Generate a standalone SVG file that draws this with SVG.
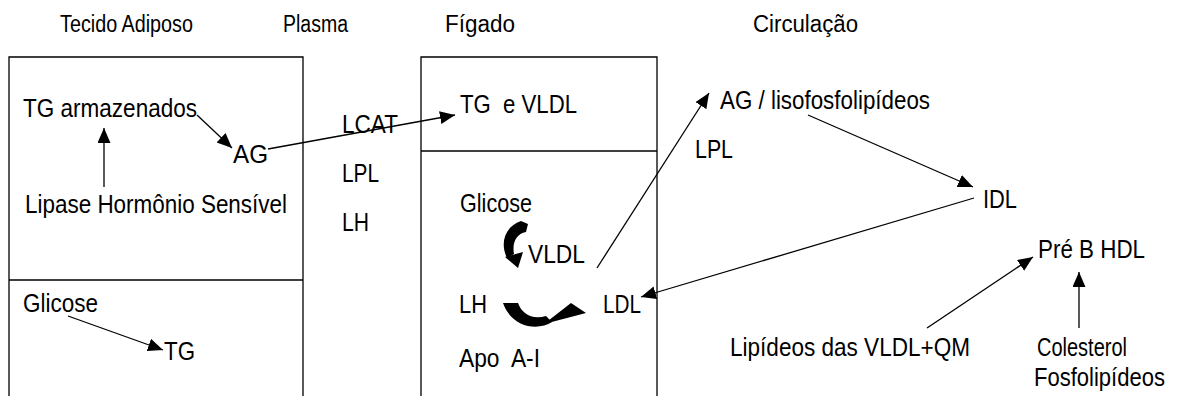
<svg xmlns="http://www.w3.org/2000/svg" width="1178" height="396" viewBox="0 0 1178 396">
<style>
text{font-family:"Liberation Sans",Arial,sans-serif;fill:#000;white-space:pre;}
.t{font-size:23px;}
.b{font-size:26px;}
.box{fill:none;stroke:#000;stroke-width:1.3;}
.c{fill:none;stroke:#000;stroke-width:1.3;marker-end:url(#ah);}
.blk{fill:#000;stroke:none;}
</style>
<defs>
<marker id="ah" markerUnits="userSpaceOnUse" markerWidth="16" markerHeight="14" refX="15" refY="6.5" orient="auto">
<path d="M0,0 L15,6.5 L0,13 Z" fill="#000"/>
</marker>
</defs>
<rect width="1178" height="396" fill="#fff"/>
<g id="titles">
<text class="t" x="60" y="32" textLength="133" lengthAdjust="spacingAndGlyphs">Tecido Adiposo</text>
<text class="t" x="283" y="32" textLength="65" lengthAdjust="spacingAndGlyphs">Plasma</text>
<text class="t" x="445" y="32" textLength="70" lengthAdjust="spacingAndGlyphs">Fígado</text>
<text class="t" x="753" y="32" textLength="105" lengthAdjust="spacingAndGlyphs">Circulação</text>
</g>
<g id="tecido-adiposo">
<path class="box" d="M9,396 V57 H303 V396 M9,280 H303"/>
<text class="b" x="23" y="117" textLength="174" lengthAdjust="spacingAndGlyphs">TG armazenados</text>
<text class="b" x="233" y="163" textLength="35" lengthAdjust="spacingAndGlyphs">AG</text>
<text class="b" x="25" y="213" textLength="262" lengthAdjust="spacingAndGlyphs">Lipase Hormônio Sensível</text>
<text class="b" x="23" y="312" textLength="75" lengthAdjust="spacingAndGlyphs">Glicose</text>
<text class="b" x="164" y="360" textLength="31" lengthAdjust="spacingAndGlyphs">TG</text>
</g>
<g id="plasma">
<text class="b" x="342" y="133" textLength="56" lengthAdjust="spacingAndGlyphs">LCAT</text>
<text class="b" x="342" y="182" textLength="37" lengthAdjust="spacingAndGlyphs">LPL</text>
<text class="b" x="342" y="231" textLength="27" lengthAdjust="spacingAndGlyphs">LH</text>
</g>
<g id="figado">
<path class="box" d="M421,396 V57 H657 V396 M421,151 H657"/>
<text class="b" x="460" y="113" textLength="117" lengthAdjust="spacingAndGlyphs">TG  e VLDL</text>
<text class="b" x="460" y="212" textLength="72" lengthAdjust="spacingAndGlyphs">Glicose</text>
<text class="b" x="528" y="263" textLength="57" lengthAdjust="spacingAndGlyphs">VLDL</text>
<text class="b" x="459" y="313" textLength="28" lengthAdjust="spacingAndGlyphs">LH</text>
<text class="b" x="603" y="313" textLength="38" lengthAdjust="spacingAndGlyphs">LDL</text>
<text class="b" x="459" y="367" textLength="81" lengthAdjust="spacingAndGlyphs">Apo  A-I</text>
<path class="blk" d="M521,221 L528,224 L526,232 C516,234 512,243 514,254 L507,258 C500,244 504,227 521,221 Z"/>
<polygon class="blk" points="505,257 523,252 518,268"/>
<path class="blk" d="M503,303 L518,303 C522,314 532,320 546,316 L552,322 C538,331 512,328 503,303 Z"/>
<polygon class="blk" points="544,324 571,303 586,313"/>
</g>
<g id="circulacao">
<text class="b" x="720" y="109" textLength="210" lengthAdjust="spacingAndGlyphs">AG / lisofosfolipídeos</text>
<text class="b" x="695" y="158" textLength="38" lengthAdjust="spacingAndGlyphs">LPL</text>
<text class="b" x="983" y="208" textLength="34" lengthAdjust="spacingAndGlyphs">IDL</text>
<text class="b" x="1038" y="258" textLength="107" lengthAdjust="spacingAndGlyphs">Pré B HDL</text>
<text class="b" x="730" y="356" textLength="240" lengthAdjust="spacingAndGlyphs">Lipídeos das VLDL+QM</text>
<text class="b" x="1037" y="356" textLength="90" lengthAdjust="spacingAndGlyphs">Colesterol</text>
<text x="0" y="0" font-size="22" transform="translate(1034,386) scale(1,1.18)" textLength="131" lengthAdjust="spacingAndGlyphs">Fosfolipídeos</text>
</g>
<g id="connectors">
<line class="c" x1="197" y1="115" x2="232" y2="148"/>
<line class="c" x1="104" y1="187" x2="104" y2="128"/>
<line class="c" x1="68" y1="316" x2="163" y2="350"/>
<line class="c" x1="268" y1="149" x2="455" y2="115"/>
<line class="c" x1="597" y1="268" x2="709" y2="93"/>
<line class="c" x1="808" y1="115" x2="973" y2="187"/>
<line class="c" x1="974" y1="198" x2="641" y2="297"/>
<line class="c" x1="927" y1="328" x2="1033" y2="257"/>
<line class="c" x1="1079" y1="328" x2="1079" y2="272"/>
</g>
</svg>
